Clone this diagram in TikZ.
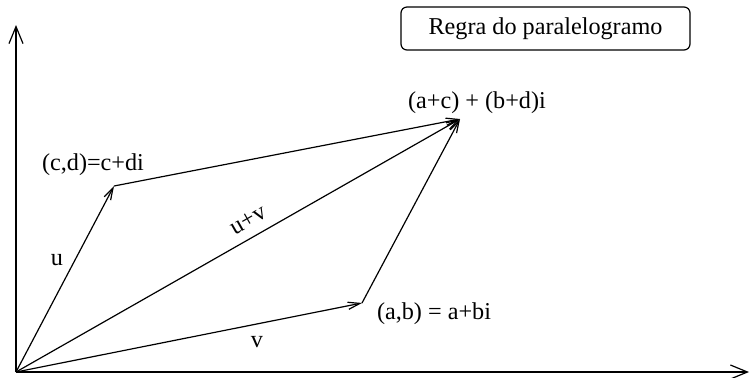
\documentclass[tikz,border=0pt]{standalone}
\usepackage{fontspec}
\setmainfont{Liberation Serif}
\usetikzlibrary{arrows.meta}
\begin{document}
\begin{tikzpicture}[x=0.5pt,y=-0.5pt,
  axis/.style={line width=0.6pt,-{Straight Barb[length=8.5pt,width=7pt]}},
  vec/.style={line width=0.6pt,-{Straight Barb[length=6pt,width=3.6pt]}},
  lbl/.style={inner sep=0pt,font=\fontsize{12.1pt}{14pt}\selectfont},
  titlebox/.style={draw,line width=0.6pt,rounded corners=3pt,minimum width=144.5pt,minimum height=21.5pt,inner sep=0pt,font=\fontsize{12.1pt}{14pt}\selectfont}]
\useasboundingbox (0,0) rectangle (750,377);
\coordinate (O) at (16,372);
\coordinate (Ytop) at (16,25);
\coordinate (Xend) at (749,372);
\coordinate (U) at (114,186);
\coordinate (V) at (362,303);
\coordinate (S) at (460,119);
\draw[axis] (O) -- (Ytop);
\draw[axis] (O) -- (Xend);
\draw[vec] (O) -- (U);
\draw[vec] (O) -- (V);
\draw[vec] (O) -- (S);
\draw[vec] (U) -- (S);
\draw[vec] (V) -- (S);
\node[titlebox] (title) at (545.5,28.5) {Regra do paralelogramo};
\node[lbl] (lsum) at (477,103) {(a+c) + (b+d)i};
\node[lbl] (lcd) at (93,165) {(c,d)=c+di};
\node[lbl] (lab) at (434,314) {(a,b) = a+bi};
\node[lbl] (lu) at (57,260) {u};
\node[lbl] (lv) at (257,342) {v};
\node[lbl,rotate=29.7] (luv) at (248,220) {u+v};
\end{tikzpicture}
\end{document}
